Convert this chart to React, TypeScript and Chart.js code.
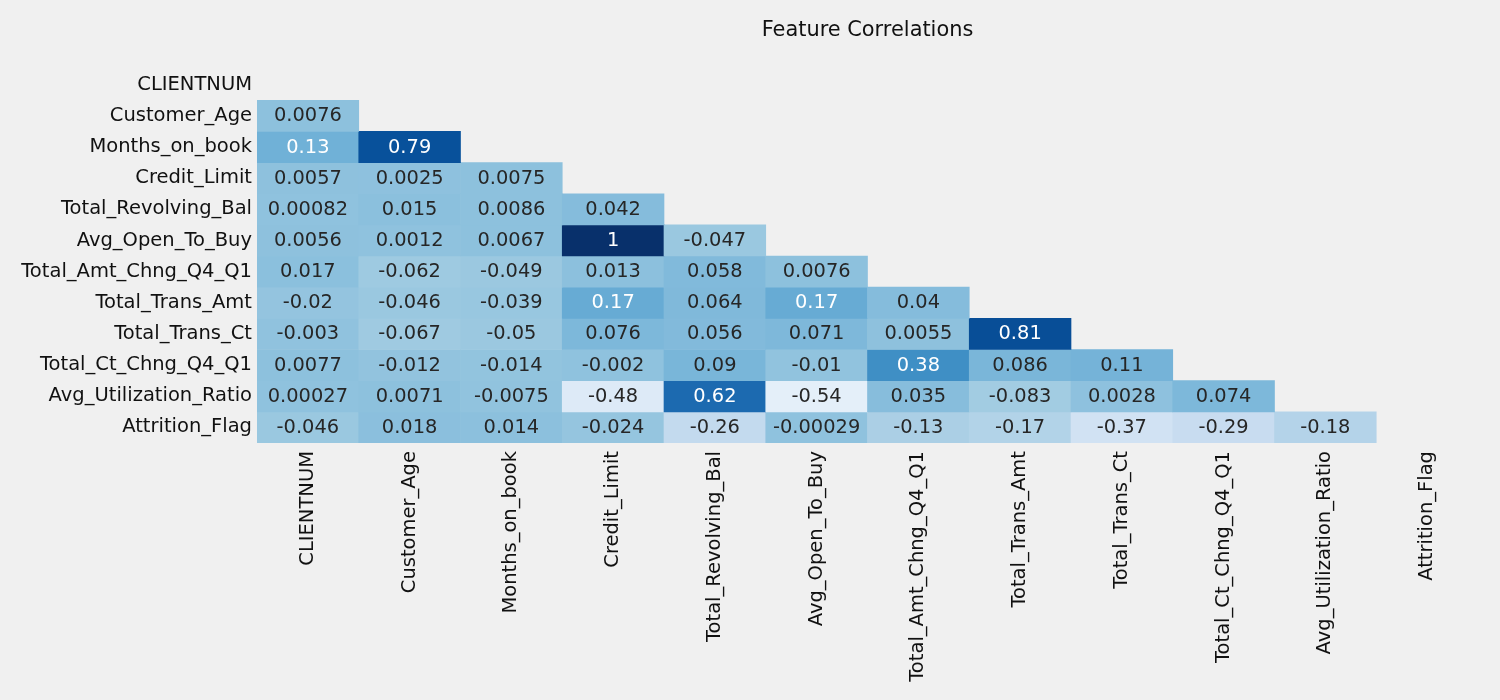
import React, { useEffect, useRef } from 'react';
import { Chart, registerables } from 'chart.js';

Chart.register(...registerables);

const features = [
  'CLIENTNUM',
  'Customer_Age',
  'Months_on_book',
  'Credit_Limit',
  'Total_Revolving_Bal',
  'Avg_Open_To_Buy',
  'Total_Amt_Chng_Q4_Q1',
  'Total_Trans_Amt',
  'Total_Trans_Ct',
  'Total_Ct_Chng_Q4_Q1',
  'Avg_Utilization_Ratio',
  'Attrition_Flag',
];

// lower triangle only: row i holds the correlations with features[0..i-1]
const corrLower: number[][] = [
  [],
  [0.0076],
  [0.13, 0.79],
  [0.0057, 0.0025, 0.0075],
  [0.00082, 0.015, 0.0086, 0.042],
  [0.0056, 0.0012, 0.0067, 1, -0.047],
  [0.017, -0.062, -0.049, 0.013, 0.058, 0.0076],
  [-0.02, -0.046, -0.039, 0.17, 0.064, 0.17, 0.04],
  [-0.003, -0.067, -0.05, 0.076, 0.056, 0.071, 0.0055, 0.81],
  [0.0077, -0.012, -0.014, -0.002, 0.09, -0.01, 0.38, 0.086, 0.11],
  [0.00027, 0.0071, -0.0075, -0.48, 0.62, -0.54, 0.035, -0.083, 0.0028, 0.074],
  [-0.046, 0.018, 0.014, -0.024, -0.26, -0.00029, -0.13, -0.17, -0.37, -0.29, -0.18],
];

const colorMin = -0.7;
const colorMax = 1;
const bluesStops = ['#f7fbff', '#deebf7', '#c6dbef', '#9ecae1', '#6baed6', '#4292c6', '#2171b5', '#08519c', '#08306b'];

const FONT = '"DejaVu Sans", sans-serif';

const hexToRgb = (h: string) => [1, 3, 5].map(i => parseInt(h.slice(i, i + 2), 16));

const cellRgb = (v: number) => {
  let t = (v - colorMin) / (colorMax - colorMin);
  t = Math.max(0, Math.min(1, t));
  const pos = t * (bluesStops.length - 1);
  const i = Math.min(Math.floor(pos), bluesStops.length - 2);
  const f = pos - i;
  const a = hexToRgb(bluesStops[i]);
  const b = hexToRgb(bluesStops[i + 1]);
  return a.map((c, k) => Math.round(c + (b[k] - c) * f));
};

const rgbStr = (c: number[]) => `rgb(${c[0]}, ${c[1]}, ${c[2]})`;

// same rule seaborn uses to pick the annotation colour
const luminance = (c: number[]) => {
  const lin = c.map(x => {
    const s = x / 255;
    return s <= 0.03928 ? s / 12.92 : Math.pow((s + 0.055) / 1.055, 2.4);
  });
  return 0.2126 * lin[0] + 0.7152 * lin[1] + 0.0722 * lin[2];
};

const fmt = (v: number) => parseFloat(v.toPrecision(2)).toString();

const cellText = {
  id: 'cellText',
  afterDatasetsDraw(chart: any) {
    const { ctx } = chart;
    const x = chart.scales.x;
    const y = chart.scales.y;
    ctx.save();
    ctx.font = `19.4px ${FONT}`;
    ctx.textAlign = 'center';
    ctx.textBaseline = 'middle';
    corrLower.forEach((row, r) =>
      row.forEach((v, c) => {
        ctx.fillStyle = luminance(cellRgb(v)) > 0.408 ? '#262626' : '#ffffff';
        ctx.fillText(fmt(v), x.getPixelForValue(c), y.getPixelForValue(r) + 0.5);
      })
    );
    ctx.restore();
  },
};

export default function App() {
  const canvasRef = useRef<HTMLCanvasElement>(null);
  const chartRef = useRef<Chart | null>(null);

  useEffect(() => {
    document.body.style.margin = '0';
    document.body.style.background = '#f0f0f0';
    if (!canvasRef.current) return;
    if (chartRef.current) chartRef.current.destroy();

    const datasets = features.map((name, r) => ({
      label: name,
      data: features.map((_, c) => (c < r ? [r - 0.5, r + 0.5] : null)),
      backgroundColor: features.map((_, c) => (c < r ? rgbStr(cellRgb(corrLower[r][c])) : 'transparent')),
      borderWidth: 0,
      barPercentage: 1,
      categoryPercentage: 1,
      grouped: false,
    }));

    chartRef.current = new Chart(canvasRef.current, {
      type: 'bar',
      data: { labels: features, datasets: datasets as any },
      options: {
        responsive: true,
        maintainAspectRatio: false,
        animation: false,
        layout: { padding: { left: 0, right: 22, top: 0, bottom: 0 } },
        plugins: {
          legend: { display: false },
          tooltip: { enabled: false },
          title: {
            display: true,
            text: 'Feature Correlations',
            fullSize: false,
            color: '#111',
            font: { family: FONT, size: 20.9, weight: 'normal' },
            padding: { top: 18, bottom: 26 },
          },
        },
        scales: {
          x: {
            type: 'category',
            offset: true,
            grid: { display: false, drawTicks: false },
            border: { display: false },
            ticks: {
              color: '#111',
              font: { family: FONT, size: 19.5 },
              maxRotation: 90,
              minRotation: 90,
              autoSkip: false,
              padding: 8,
            },
            afterFit: (scale: any) => {
              scale.height = 257;
            },
          },
          y: {
            type: 'linear',
            reverse: true,
            min: -0.5,
            max: 11.5,
            grid: { display: false, drawTicks: false },
            border: { display: false },
            afterBuildTicks: (scale: any) => {
              scale.ticks = features.map((_, i) => ({ value: i }));
            },
            ticks: {
              color: '#111',
              font: { family: FONT, size: 19.5 },
              autoSkip: false,
              padding: 5,
              callback: (v: any) => features[v as number] ?? '',
            },
            afterFit: (scale: any) => {
              scale.width = 257;
            },
          },
        },
      },
      plugins: [cellText],
    });

    return () => {
      if (chartRef.current) {
        chartRef.current.destroy();
        chartRef.current = null;
      }
    };
  }, []);

  return (
    <div style={{ position: 'relative', width: '1500px', height: '700px', background: '#f0f0f0' }}>
      <canvas ref={canvasRef}></canvas>
    </div>
  );
}
